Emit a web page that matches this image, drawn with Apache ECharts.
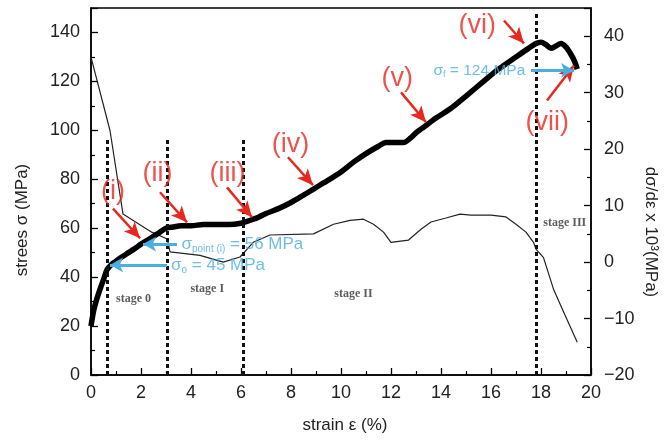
<!DOCTYPE html>
<html>
<head>
<meta charset="utf-8">
<script src="https://cdn.jsdelivr.net/npm/echarts@6/dist/echarts.min.js"></script>
<style>html,body{margin:0;padding:0;background:#fff}#c{width:668px;height:441px}</style>
</head>
<body>
<div id="c"></div>
<script>
// ---- data ----
const stressStrain = [0,0.1,0.2,0.36,0.5,0.64,0.8,1.0,1.2,1.5,1.8,2.0,2.4,2.7,3.0,3.3,3.6,4.0,4.5,5.0,5.5,6.0,6.3,6.7,7.0,7.5,8.0,8.5,8.9,9.3,9.7,10.0,10.5,11.0,11.5,11.8,12.2,12.5,12.8,13.0,13.4,13.8,14.4,15.0,15.7,16.3,17.0,17.5,17.8,18.0,18.2,18.4,18.6,18.8,19.0,19.2,19.35,19.45];
const stressValues = [20,26,30,35,39,43,45,46.5,48,50,52,53.5,56,58,60,60.5,61,61,61.5,61.5,61.5,62,63,64.5,66,68,70.5,73.5,76,78.5,81,83,87,90.5,93.5,95,95,95,97,99,102,105,109,114,120,125,130,133.5,135.5,136,135,133.5,134.5,135.5,134,131,128,125];
const derivStrain = [0,0.76,1.28,2.43,3.05,3.16,4.36,5.29,5.96,6.49,7.16,8.9,9.7,10.36,10.9,11.3,11.7,12.0,12.7,13.2,13.6,14.2,14.76,15.2,16.0,16.6,17.0,17.4,17.7,17.8,18.1,18.5,18.9,19.45];
const derivValues = [36.3,23.3,8.5,5.3,4.1,1.8,1.2,0.0,0.9,3.5,4.8,5.0,6.7,7.4,7.6,6.7,5.3,3.5,3.9,5.8,7.1,7.8,8.5,8.3,8.3,8.0,6.7,5.3,3.5,2.3,0.8,-4.8,-8.8,-14.2];
const xTicks = [0,2,4,6,8,10,12,14,16,18,20];
const leftTicks = [0,20,40,60,80,100,120,140];
const rightTicks = [-20,-10,0,10,20,30,40];

// stage boundaries (strain %) and dashed-line tops (MPa)
const stageBounds = [0.66, 3.04, 6.08, 17.8];
const stageTops = [97, 97, 97, 148];
const stageNames = ['stage 0', 'stage I', 'stage II', 'stage III'];
const stageNameAt = [[1.7, 31], [4.65, 35], [10.5, 33], [18.95, 62]];

// red point labels and their arrows (strain, MPa)
const pointNames = ['(i)', '(ii)', '(iii)', '(iv)', '(v)', '(vi)', '(vii)'];
const pointNameAt = [[0.88, 75], [2.66, 82.5], [5.46, 82.5], [7.98, 94], [12.25, 121], [15.45, 143], [18.25, 103]];
const pointArrowFrom = [[0.88, 68], [2.76, 74.7], [5.44, 76.7], [7.88, 89], [12.4, 115.5], [16.52, 144.9], [18.24, 112.2]];
const pointArrowTo = [[1.96, 55.9], [3.84, 62.4], [6.44, 64.5], [8.88, 77.6], [13.4, 103.3], [17.32, 135.5], [19.32, 126.5]];

// blue stress levels
const levelArrowFrom = [[3.44, 53.5], [3.04, 45], [17.6, 124.5]];
const levelArrowTo = [[2.08, 53.5], [0.76, 45], [19.32, 124.5]];
const levelTextAt = [[3.62, 53.5], [3.2, 45], [13.7, 124.5]];
const levelTexts = ['{s|σ}{sub|point (i)}{s| = 56 MPa}', '{s|σ}{sub|o}{s| = 45 MPa}', '{t|σ}{tsub|f}{t| = 124 MPa}'];

// ---- chart ----
const RED = '#e8271f', BLUE = '#4aaee0';
const stressData = stressStrain.map((x, i) => [x, stressValues[i]]);
const derivData = derivStrain.map((x, i) => [x, derivValues[i]]);
const minus = v => String(v).replace('-', '\u2212');

const chart = echarts.init(document.getElementById('c'), null, {renderer: 'canvas'});
const tickFont = {fontFamily: 'Liberation Sans, Arial, sans-serif', fontSize: 18, color: '#222'};

const option = {
  animation: false,
  grid: {left: 91, right: 77, top: 8, bottom: 66, show: true, borderColor: '#000', borderWidth: 1.5, containLabel: false},
  xAxis: {
    type: 'value', min: 0, max: 20, interval: 2,
    axisLine: {lineStyle: {color: '#000', width: 1.5}},
    axisTick: {inside: true, length: 7, lineStyle: {color: '#000', width: 1.3}},
    minorTick: {show: true, splitNumber: 2, length: 4, lineStyle: {color: '#000', width: 1.2}},
    splitLine: {show: false},
    axisLabel: Object.assign({margin: 9, formatter: v => xTicks.includes(v) ? String(v) : ''}, tickFont)
  },
  yAxis: [{
    type: 'value', min: 0, max: 150, interval: 20, position: 'left',
    axisLine: {show: true, lineStyle: {color: '#000', width: 1.5}},
    axisTick: {show: true, inside: true, length: 7, lineStyle: {color: '#000', width: 1.3}},
    minorTick: {show: true, splitNumber: 2, length: 4, lineStyle: {color: '#000', width: 1.2}},
    splitLine: {show: false},
    axisLabel: Object.assign({margin: 11, showMaxLabel: false, formatter: v => leftTicks.includes(v) ? String(v) : ''}, tickFont)
  }, {
    type: 'value', min: -20, max: 45, interval: 10, position: 'right',
    axisLine: {show: true, lineStyle: {color: '#000', width: 1.5}},
    axisTick: {show: true, inside: true, length: 7, lineStyle: {color: '#000', width: 1.3}},
    minorTick: {show: true, splitNumber: 2, length: 4, lineStyle: {color: '#000', width: 1.2}},
    splitLine: {show: false},
    axisLabel: Object.assign({margin: 13, showMaxLabel: false, formatter: v => rightTicks.includes(v) ? minus(v) : ''}, tickFont)
  }],
  series: [
    {
      name: 'dσ/dε', type: 'line', yAxisIndex: 1, data: derivData, symbol: 'none', smooth: false,
      lineStyle: {color: '#222', width: 1.2}, z: 2
    },
    {
      name: 'stress', type: 'line', yAxisIndex: 0, data: stressData, symbol: 'none', smooth: 0.3,
      lineStyle: {color: '#000', width: 5.5}, z: 3,
      markLine: {
        silent: true, symbol: ['none', 'none'], label: {show: false},
        lineStyle: {color: '#111', width: 3, type: [4, 3]},
        data: stageBounds.map((x, i) => [{coord: [x, 0]}, {coord: [x, stageTops[i]]}])
      }
    },
    {
      name: 'redArrows', type: 'line', yAxisIndex: 0, data: [], z: 5,
      markLine: {
        silent: true, symbol: ['none', 'arrow'], symbolSize: [11, 16], label: {show: false},
        lineStyle: {color: RED, width: 2.5, type: 'solid'},
        data: pointArrowFrom.map((p, i) => [{coord: p}, {coord: pointArrowTo[i]}])
      }
    },
    {
      name: 'blueArrows', type: 'line', yAxisIndex: 0, data: [], z: 5,
      markLine: {
        silent: true, symbol: ['none', 'arrow'], symbolSize: [11, 13], label: {show: false},
        lineStyle: {color: BLUE, width: 3, type: 'solid'},
        data: levelArrowFrom.map((p, i) => [{coord: p}, {coord: levelArrowTo[i]}])
      }
    },
    {
      name: 'pointNames', type: 'scatter', yAxisIndex: 0, symbolSize: 0, z: 6, silent: true,
      data: pointNames.map((t, i) => ({value: pointNameAt[i], label: {formatter: t}})),
      label: {show: true, position: 'inside', color: RED, fontSize: 27, fontFamily: 'Liberation Sans, Arial, sans-serif'}
    },
    {
      name: 'stageNames', type: 'scatter', yAxisIndex: 0, symbolSize: 0, z: 6, silent: true,
      data: stageNames.map((t, i) => ({value: stageNameAt[i], label: {formatter: t}})),
      label: {show: true, position: 'inside', color: '#333', fontSize: 12, fontWeight: 'bold', fontFamily: 'Liberation Serif, Times New Roman, serif'}
    },
    {
      name: 'levelTexts', type: 'scatter', yAxisIndex: 0, symbolSize: 0, z: 6, silent: true,
      data: levelTexts.map((t, i) => ({value: levelTextAt[i], label: {formatter: t}})),
      label: {
        show: true, position: 'right', distance: 0,
        rich: {
          s: {color: BLUE, fontSize: 17, fontFamily: 'Liberation Sans, Arial, sans-serif'},
          sub: {color: BLUE, fontSize: 10, fontFamily: 'Liberation Sans, Arial, sans-serif', padding: [10, 0, 0, 0]},
          t: {color: BLUE, fontSize: 15.5, fontFamily: 'Liberation Sans, Arial, sans-serif'},
          tsub: {color: BLUE, fontSize: 9, fontFamily: 'Liberation Sans, Arial, sans-serif', padding: [8, 0, 0, 0]}
        }
      }
    }
  ],
  graphic: [
    {type: 'text', x: 22, y: 220, rotation: Math.PI / 2,
     style: {text: 'strees σ (MPa)', x: 0, y: 0, align: 'center', verticalAlign: 'middle', fill: '#222', fontSize: 17, fontFamily: 'Liberation Sans, Arial, sans-serif'}},
    {type: 'text', x: 651, y: 232, rotation: -Math.PI / 2,
     style: {text: 'dσ/dε x 10³(MPa)', x: 0, y: 0, align: 'center', verticalAlign: 'middle', fill: '#222', fontSize: 17, fontFamily: 'Liberation Sans, Arial, sans-serif'}},
    {type: 'text', x: 345, y: 425,
     style: {text: 'strain ε (%)', x: 0, y: 0, align: 'center', verticalAlign: 'middle', fill: '#222', fontSize: 17, fontFamily: 'Liberation Sans, Arial, sans-serif'}}
  ]
};
chart.setOption(option);
</script>
</body>
</html>
